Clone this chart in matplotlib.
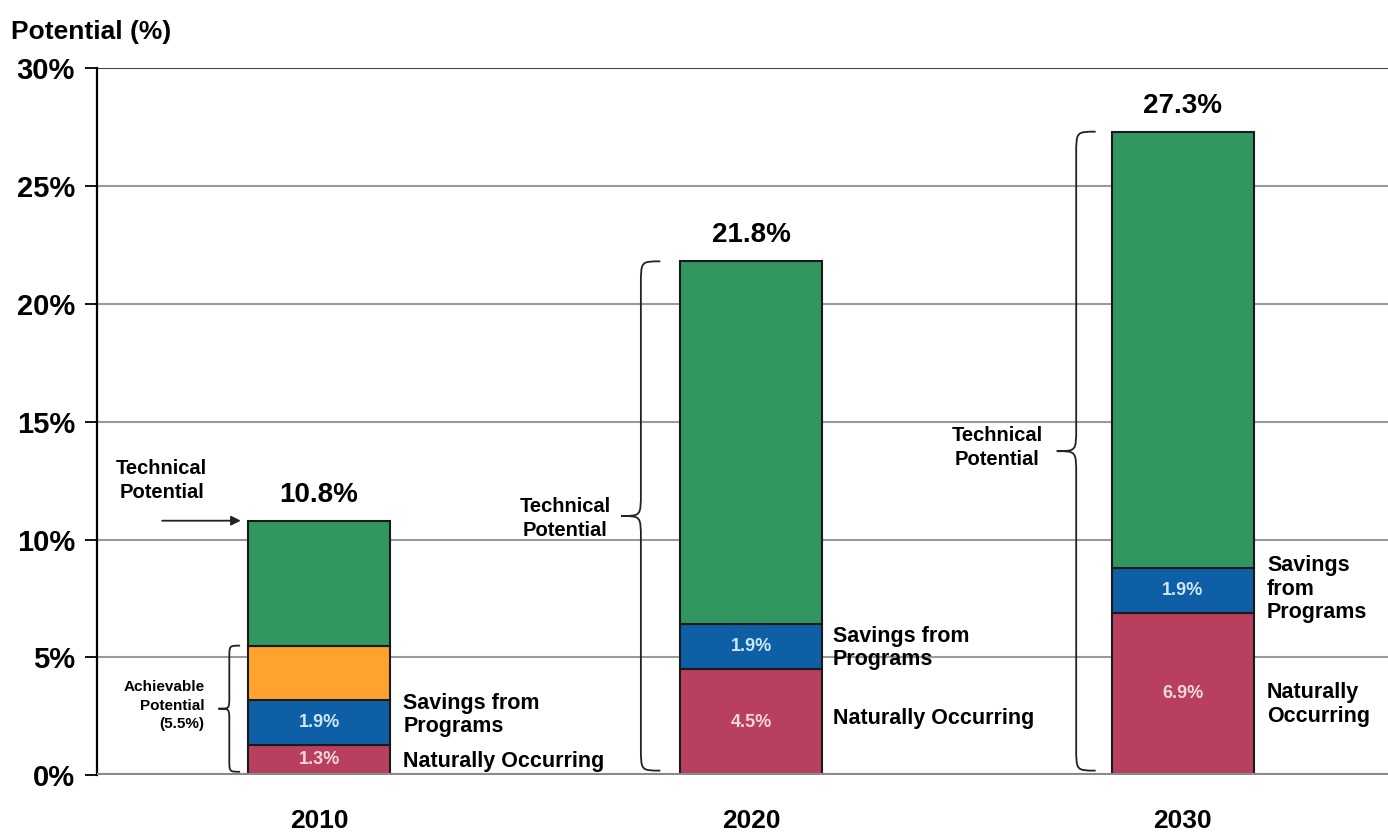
import matplotlib.pyplot as plt
import numpy as np
from matplotlib.path import Path
import matplotlib.patches as patches

plt.rcParams['font.family'] = ['Liberation Sans', 'DejaVu Sans']

# data
years = ['2010', '2020', '2030']
natural = [1.3, 4.5, 6.9]
programs = [1.9, 1.9, 1.9]
achievable_extra = [2.3, 0.0, 0.0]
technical_total = [10.8, 21.8, 27.3]
achievable_total = 5.5
ytick_vals = [0, 5, 10, 15, 20, 25, 30]
ytick_labels = ['0%', '5%', '10%', '15%', '20%', '25%', '30%']

c_nat = '#B8405E'
c_prog = '#0E5FA6'
c_orange = '#FFA22E'
c_green = '#31965F'


def brace(ax, x_end, y0, y1, w, r=0.9, lw=1.3):
    # curly brace opening to the right, tip pointing left
    xs = x_end - w * 0.5
    xt = x_end - w
    ym = (y0 + y1) / 2
    verts = [(x_end, y0), (xs, y0), (xs, y0), (xs, y0 + r),
             (xs, ym - r),
             (xs, ym), (xs, ym), (xt, ym),
             (xs, ym), (xs, ym), (xs, ym + r),
             (xs, y1 - r),
             (xs, y1), (xs, y1), (x_end, y1)]
    codes = [Path.MOVETO, Path.CURVE4, Path.CURVE4, Path.CURVE4,
             Path.LINETO,
             Path.CURVE4, Path.CURVE4, Path.CURVE4,
             Path.CURVE4, Path.CURVE4, Path.CURVE4,
             Path.LINETO,
             Path.CURVE4, Path.CURVE4, Path.CURVE4]
    ax.add_patch(patches.PathPatch(Path(verts, codes), fill=False, lw=lw, color='#222222'))


fig = plt.figure(figsize=(13.88, 8.4), dpi=100)
ax = fig.add_axes([0.07, 0.077, 0.93, 0.842])

x = np.arange(len(years))
width = 0.33
nat = np.array(natural)
prog = np.array(programs)
orng = np.array(achievable_extra)
tot = np.array(technical_total)
green = tot - nat - prog - orng

ekw = dict(edgecolor='#1a1a1a', linewidth=1.5, zorder=3)
ax.bar(x, nat, width, color=c_nat, **ekw)
ax.bar(x, prog, width, bottom=nat, color=c_prog, **ekw)
m = orng > 0
ax.bar(x[m], orng[m], width, bottom=(nat + prog)[m], color=c_orange, **ekw)
ax.bar(x, green, width, bottom=nat + prog + orng, color=c_green, **ekw)

# grid lines
for v in ytick_vals[1:-1]:
    ax.axhline(v, color='#9a9a9a', lw=1.5, zorder=1)
ax.axhline(30, color='#444444', lw=1.5, zorder=1)
ax.axhline(0, color='#8a8a8a', lw=3, zorder=4)

ax.set_xlim(-0.514, 2.475)
ax.set_ylim(0, 30)
for s in ['top', 'right', 'bottom']:
    ax.spines[s].set_visible(False)
ax.spines['left'].set_linewidth(1.6)
ax.set_yticks(ytick_vals)
ax.set_yticklabels(ytick_labels, fontsize=21, fontweight='bold')
ax.tick_params(axis='y', length=9, width=1.3, pad=7)
ax.set_xticks(x)
ax.set_xticklabels(years, fontsize=19, fontweight='bold')
ax.tick_params(axis='x', length=0, pad=24)

fig.text(0.008, 0.962, 'Potential (%)', fontsize=19, fontweight='bold', va='center')

# totals
for i in range(len(years)):
    ax.text(x[i], tot[i] + 0.55, f'{technical_total[i]}%', ha='center', va='bottom',
            fontsize=20, fontweight='bold', zorder=5)
    ax.text(x[i], nat[i] / 2, f'{natural[i]}%', ha='center', va='center',
            color='#f3d6de', fontsize=13, fontweight='bold', zorder=5)
    ax.text(x[i], nat[i] + prog[i] / 2, f'{programs[i]}%', ha='center', va='center',
            color='#cfe6f7', fontsize=13, fontweight='bold', zorder=5)

lkw = dict(fontsize=15.5, fontweight='bold', va='center', ha='left', linespacing=1.15)
ax.text(0.195, 2.55, 'Savings from\nPrograms', **lkw)
ax.text(0.195, 0.6, 'Naturally Occurring', **lkw)
ax.text(1.19, 5.4, 'Savings from\nPrograms', **lkw)
ax.text(1.19, 2.4, 'Naturally Occurring', **lkw)
ax.text(2.195, 7.9, 'Savings\nfrom\nPrograms', **lkw)
ax.text(2.195, 3.0, 'Naturally\nOccurring', **lkw)

tkw = dict(fontsize=14.5, fontweight='bold', ha='center', va='center', linespacing=1.3)
ax.text(-0.365, 12.5, 'Technical\nPotential', **tkw)
ax.annotate('', xy=(x[0] - width / 2 - 0.01, tot[0]), xytext=(-0.37, tot[0]),
            arrowprops=dict(arrowstyle='-|>', color='#222222', lw=1.3, mutation_scale=14))
ax.text(0.57, 10.9, 'Technical\nPotential', **tkw)
ax.text(1.57, 13.9, 'Technical\nPotential', **tkw)

ax.text(-0.265, 2.95, 'Achievable\nPotential\n(5.5%)', fontsize=11, fontweight='bold',
        ha='right', va='center', linespacing=1.4)

brace(ax, x[0] - width / 2 - 0.018, 0.15, achievable_total, 0.05, r=0.5)
brace(ax, x[1] - width / 2 - 0.045, 0.2, tot[1], 0.09, r=1.0)
brace(ax, x[2] - width / 2 - 0.037, 0.2, tot[2], 0.09, r=1.0)

fig.savefig('out.png', dpi=100)
